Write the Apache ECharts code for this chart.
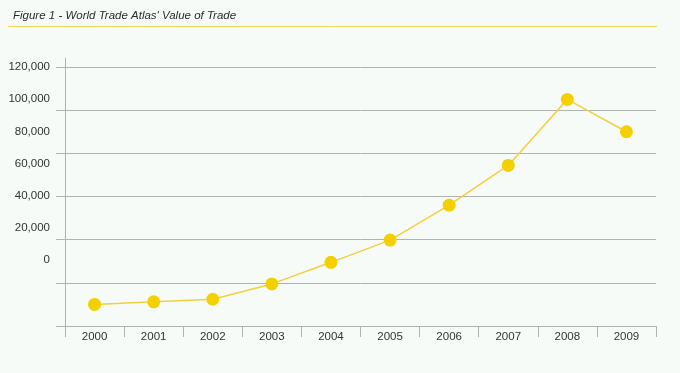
<!DOCTYPE html>
<html><head><meta charset="utf-8">
<script src="https://cdn.jsdelivr.net/npm/echarts@6/dist/echarts.min.js"></script>
<style>html,body{margin:0;padding:0;background:#f7fbf8;}#c{width:680px;height:373px;}</style>
</head><body><div id="c"></div>
<script>
var titleText = "Figure 1 - World Trade Atlas' Value of Trade";
var years = ['2000','2001','2002','2003','2004','2005','2006','2007','2008','2009'];
var tradeValues = [10000, 11200, 12400, 19500, 29500, 39800, 56000, 74400, 105000, 90000];
var labelTicks = [0, 20000, 40000, 60000, 80000, 100000, 120000];

var gridColor = '#b0b3b0';
var yellow = '#f5d000';
var chart = echarts.init(document.getElementById('c'), null, {renderer:'canvas'});
chart.setOption({
  backgroundColor: '#f7fbf8',
  animation: false,
  title: {text: titleText, left: 8, top: 5,
    textStyle: {fontFamily: 'Liberation Sans, Arial, sans-serif', fontStyle: 'italic', fontWeight: 'normal', fontSize: 11.5, color: '#2a2a2a'}},
  graphic: [{type: 'line', shape: {x1: 8, y1: 26.5, x2: 657, y2: 26.5}, style: {stroke: '#ecd35a', lineWidth: 1}}],
  grid: [
    {left: 65, right: 24, top: 67, bottom: 47},
    {left: 65, right: 24, top: 67, height: 193},
    {left: 65, right: 24, top: 58, bottom: 47}
  ],
  xAxis: [
    {gridIndex: 0, type: 'category', data: years, boundaryGap: true,
     axisLine: {show: true, lineStyle: {color: gridColor}},
     axisTick: {show: true, length: 11, lineStyle: {color: gridColor}},
     axisLabel: {color: '#333', fontSize: 11.5, fontFamily: 'Liberation Sans, Arial, sans-serif', margin: 5}},
    {gridIndex: 1, type: 'category', data: years, show: false},
    {gridIndex: 2, type: 'category', data: years, show: false}
  ],
  yAxis: [
    {gridIndex: 0, type: 'value', min: 0, max: 120000, interval: 20000,
     axisLine: {show: true, lineStyle: {color: gridColor}},
     axisTick: {show: true, length: 9, lineStyle: {color: gridColor}},
     axisLabel: {show: false},
     splitLine: {show: true, lineStyle: {color: gridColor, width: 1}}},
    {gridIndex: 1, type: 'value', min: labelTicks[0], max: labelTicks[labelTicks.length-1], interval: 20000,
     axisLine: {show: false}, axisTick: {show: false}, splitLine: {show: false},
     axisLabel: {show: true, color: '#333', fontSize: 11.5, fontFamily: 'Liberation Sans, Arial, sans-serif', margin: 15,
       formatter: function(v){ return v.toLocaleString('en-US'); }}},
    {gridIndex: 2, type: 'value', min: 0, max: 1,
     axisLine: {show: true, lineStyle: {color: gridColor}},
     axisTick: {show: false}, axisLabel: {show: false}, splitLine: {show: false}}
  ],
  series: [{
    type: 'line', xAxisIndex: 0, yAxisIndex: 0, data: tradeValues,
    symbol: 'circle', symbolSize: 13,
    lineStyle: {color: '#f0d040', width: 1.5},
    itemStyle: {color: yellow}
  }]
});
</script></body></html>
